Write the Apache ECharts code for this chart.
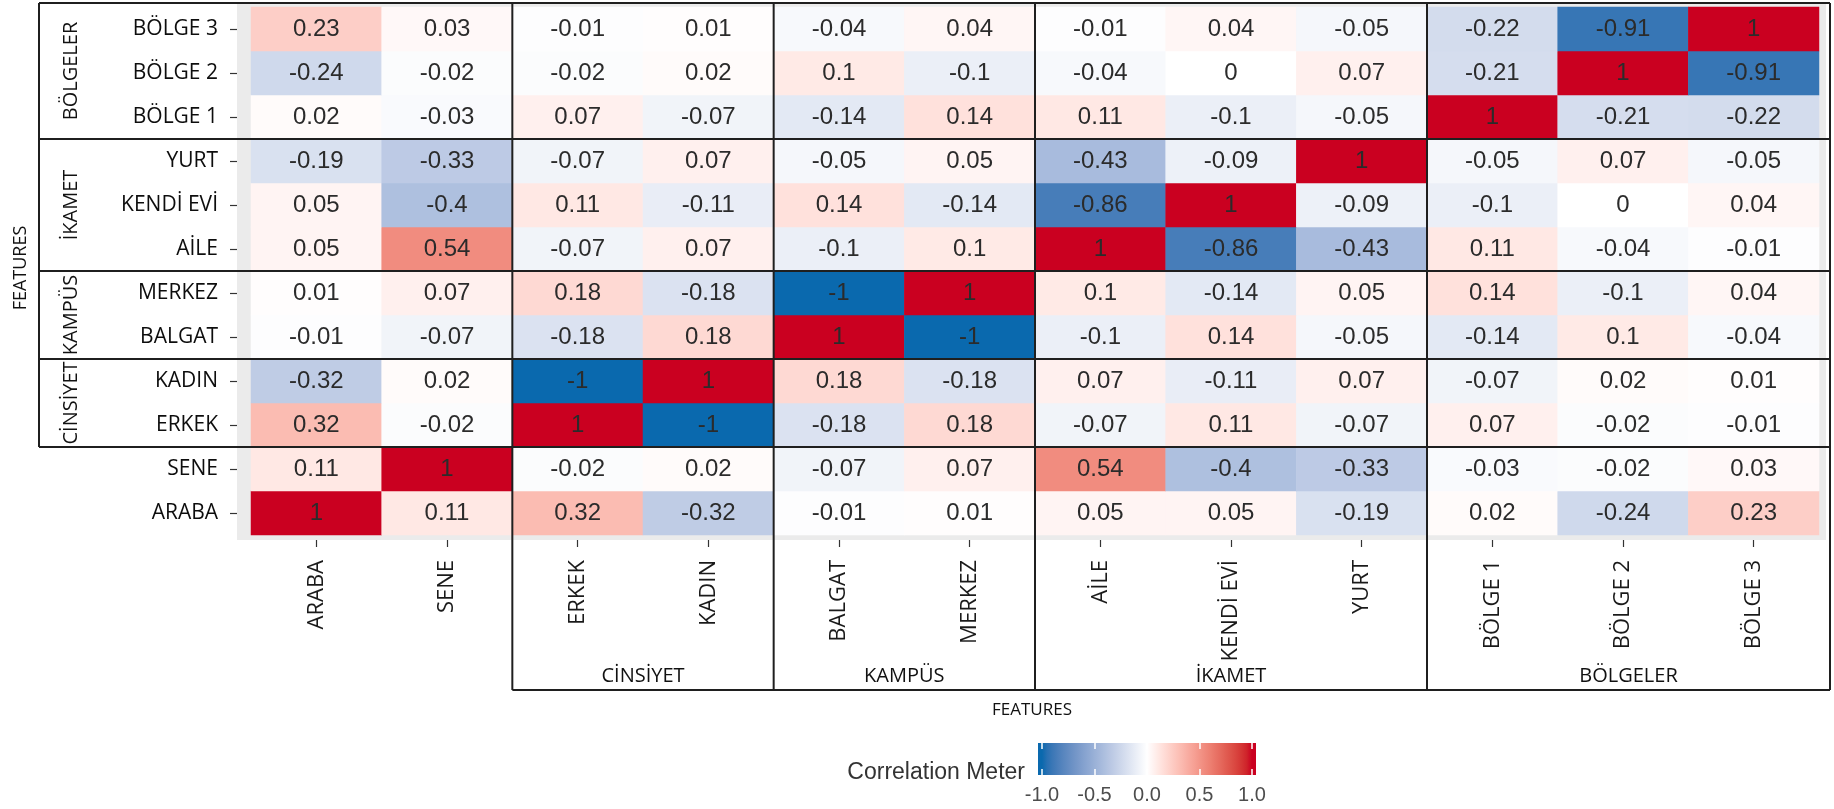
<!DOCTYPE html>
<html>
<head>
<meta charset="utf-8">
<script src="https://cdn.jsdelivr.net/npm/echarts@6/dist/echarts.min.js"></script>
<style>
  html, body { margin: 0; padding: 0; background: #ffffff; }
  #chart { width: 1834px; height: 809px; }
</style>
</head>
<body>
<div id="chart"></div>
<script>
// Feature names: first entry is the bottom row and the left column
const features = ['ARABA', 'SENE', 'ERKEK', 'KADIN', 'BALGAT', 'MERKEZ', 'AİLE', 'KENDİ EVİ', 'YURT', 'BÖLGE 1', 'BÖLGE 2', 'BÖLGE 3'];

// Correlation of each feature with every feature (same column order as features)
const rowAraba   = [1, 0.11, 0.32, -0.32, -0.01, 0.01, 0.05, 0.05, -0.19, 0.02, -0.24, 0.23];
const rowSene    = [0.11, 1, -0.02, 0.02, -0.07, 0.07, 0.54, -0.4, -0.33, -0.03, -0.02, 0.03];
const rowErkek   = [0.32, -0.02, 1, -1, -0.18, 0.18, -0.07, 0.11, -0.07, 0.07, -0.02, -0.01];
const rowKadin   = [-0.32, 0.02, -1, 1, 0.18, -0.18, 0.07, -0.11, 0.07, -0.07, 0.02, 0.01];
const rowBalgat  = [-0.01, -0.07, -0.18, 0.18, 1, -1, -0.1, 0.14, -0.05, -0.14, 0.1, -0.04];
const rowMerkez  = [0.01, 0.07, 0.18, -0.18, -1, 1, 0.1, -0.14, 0.05, 0.14, -0.1, 0.04];
const rowAile    = [0.05, 0.54, -0.07, 0.07, -0.1, 0.1, 1, -0.86, -0.43, 0.11, -0.04, -0.01];
const rowKendiEvi= [0.05, -0.4, 0.11, -0.11, 0.14, -0.14, -0.86, 1, -0.09, -0.1, 0, 0.04];
const rowYurt    = [-0.19, -0.33, -0.07, 0.07, -0.05, 0.05, -0.43, -0.09, 1, -0.05, 0.07, -0.05];
const rowBolge1  = [0.02, -0.03, 0.07, -0.07, -0.14, 0.14, 0.11, -0.1, -0.05, 1, -0.21, -0.22];
const rowBolge2  = [-0.24, -0.02, -0.02, 0.02, 0.1, -0.1, -0.04, 0, 0.07, -0.21, 1, -0.91];
const rowBolge3  = [0.23, 0.03, -0.01, 0.01, -0.04, 0.04, -0.01, 0.04, -0.05, -0.22, -0.91, 1];

const corrRows = [rowAraba, rowSene, rowErkek, rowKadin, rowBalgat, rowMerkez,
                  rowAile, rowKendiEvi, rowYurt, rowBolge1, rowBolge2, rowBolge3];

// Feature groups (index range into features)
const groupNames = ['CİNSİYET', 'KAMPÜS', 'İKAMET', 'BÖLGELER'];
const groupStart = [2, 4, 6, 9];
const groupEnd   = [3, 5, 8, 11];

// Colour bar range
const meterMin = -1;
const meterMax = 1;
const meterStep = 0.5;

// ---- diverging palette, interpolated in CIE Lab between the ends and white ----
const lowColor = '#0A69AE', midColor = '#FFFFFF', highColor = '#CA0020';

function hexToRgb(h) {
  const n = parseInt(h.slice(1), 16);
  return [(n >> 16) & 255, (n >> 8) & 255, n & 255];
}
function toLin(c) { c /= 255; return c <= 0.04045 ? c / 12.92 : Math.pow((c + 0.055) / 1.055, 2.4); }
function fromLin(c) {
  c = c <= 0.0031308 ? 12.92 * c : 1.055 * Math.pow(c, 1 / 2.4) - 0.055;
  return Math.round(Math.max(0, Math.min(1, c)) * 255);
}
function rgbToLab(rgb) {
  const R = toLin(rgb[0]), G = toLin(rgb[1]), B = toLin(rgb[2]);
  const X = (0.4124 * R + 0.3576 * G + 0.1805 * B) / 0.95047;
  const Y = (0.2126 * R + 0.7152 * G + 0.0722 * B);
  const Z = (0.0193 * R + 0.1192 * G + 0.9505 * B) / 1.08883;
  const f = t => t > 0.008856 ? Math.cbrt(t) : (7.787 * t + 16 / 116);
  return [116 * f(Y) - 16, 500 * (f(X) - f(Y)), 200 * (f(Y) - f(Z))];
}
function labToHex(lab) {
  const fy = (lab[0] + 16) / 116, fx = fy + lab[1] / 500, fz = fy - lab[2] / 200;
  const inv = t => (t * t * t > 0.008856 ? t * t * t : (t - 16 / 116) / 7.787);
  const X = inv(fx) * 0.95047, Y = inv(fy), Z = inv(fz) * 1.08883;
  const r = fromLin(3.2406 * X - 1.5372 * Y - 0.4986 * Z);
  const g = fromLin(-0.9689 * X + 1.8758 * Y + 0.0415 * Z);
  const b = fromLin(0.0557 * X - 0.2040 * Y + 1.0570 * Z);
  return '#' + [r, g, b].map(v => v.toString(16).padStart(2, '0')).join('');
}
const labLow = rgbToLab(hexToRgb(lowColor));
const labMid = rgbToLab(hexToRgb(midColor));
const labHigh = rgbToLab(hexToRgb(highColor));
function colorAt(v) {
  const t = Math.min(1, Math.abs(v));
  const end = v < 0 ? labLow : labHigh;
  return labToHex([0, 1, 2].map(k => labMid[k] + (end[k] - labMid[k]) * t));
}
const STOPS = 40;
const palette = [];
for (let i = 0; i <= STOPS; i++) palette.push(colorAt(meterMin + (meterMax - meterMin) * i / STOPS));

// ---- heatmap cells ----
const cells = [];
corrRows.forEach((row, r) => row.forEach((v, c) => cells.push([c, r, v])));

// ---- layout of the main panel ----
const G_LEFT = 251, G_TOP = 7, G_W = 1568, G_H = 528;
const N = features.length;
const CW = G_W / N, CH = G_H / N;
const BOX_LEFT = 39, BOX_TOP = 3, BOX_RIGHT = 1830, BOX_BOTTOM = 690;
const colX = i => G_LEFT + i * CW;           // left edge of column i
const rowY = i => G_TOP + (N - i) * CH;      // bottom edge of row i (rows counted from bottom)

// colour-bar geometry
const BAR_LEFT = 1042, BAR_W = 210, BAR_TOP = 743, BAR_H = 32, BAR_PAD = 4;

const labelFont = '"Open Sans", "DejaVu Sans", sans-serif';
const numFont = '"Liberation Sans", Arial, sans-serif';
const graphics = [];

// grey panel behind the tiles
graphics.push({
  type: 'rect', z: -10, silent: true,
  shape: { x: G_LEFT - 14, y: 2, width: G_W + 21, height: G_H + 10 },
  style: { fill: '#EBEBEB' }
});

// group frame lines
const lineStyle = { stroke: '#1f1f1f', lineWidth: 2 };
function addLine(x1, y1, x2, y2) {
  graphics.push({ type: 'line', z: 100, silent: true, shape: { x1, y1, x2, y2 }, style: lineStyle });
}
addLine(BOX_LEFT, BOX_TOP, BOX_RIGHT, BOX_TOP);
addLine(BOX_LEFT, BOX_TOP, BOX_LEFT, rowY(groupStart[0]));
groupStart.forEach(s => addLine(BOX_LEFT, rowY(s), BOX_RIGHT, rowY(s)));
groupStart.forEach(s => addLine(colX(s), BOX_TOP, colX(s), BOX_BOTTOM));
addLine(BOX_RIGHT, BOX_TOP, BOX_RIGHT, BOX_BOTTOM);
addLine(colX(groupStart[0]), BOX_BOTTOM, BOX_RIGHT, BOX_BOTTOM);

// group names: left side (rotated) and under the column labels
groupNames.forEach((name, g) => {
  const yTop = g === groupNames.length - 1 ? BOX_TOP : rowY(groupEnd[g] + 1);
  const yBot = rowY(groupStart[g]);
  graphics.push({
    type: 'text', z: 100, silent: true, x: 71, y: (yTop + yBot) / 2, rotation: Math.PI / 2,
    style: { text: name, font: '20px ' + labelFont, fill: '#111111',
             textAlign: 'center', textVerticalAlign: 'middle', align: 'center', verticalAlign: 'middle' }
  });
  const xL = colX(groupStart[g]);
  const xR = g === groupNames.length - 1 ? BOX_RIGHT : colX(groupEnd[g] + 1);
  graphics.push({
    type: 'text', z: 100, silent: true, x: (xL + xR) / 2, y: 676,
    style: { text: name, font: '20px ' + labelFont, fill: '#111111',
             textAlign: 'center', textVerticalAlign: 'middle', align: 'center', verticalAlign: 'middle' }
  });
});

// axis titles
graphics.push({
  type: 'text', z: 100, silent: true, x: 21, y: 268, rotation: Math.PI / 2,
  style: { text: 'FEATURES', font: '18px ' + labelFont, fill: '#111111',
           textAlign: 'center', textVerticalAlign: 'middle', align: 'center', verticalAlign: 'middle' }
});
graphics.push({
  type: 'text', z: 100, silent: true, x: 1032, y: 710,
  style: { text: 'FEATURES', font: '17px ' + labelFont, fill: '#111111',
           textAlign: 'center', textVerticalAlign: 'middle', align: 'center', verticalAlign: 'middle' }
});

// colour bar and its title
const barStops = [];
for (let i = 0; i <= STOPS; i++) {
  barStops.push({ offset: (BAR_PAD + BAR_W * i / STOPS) / (BAR_W + 2 * BAR_PAD), color: palette[i] });
}
barStops.unshift({ offset: 0, color: palette[0] });
barStops.push({ offset: 1, color: palette[STOPS] });
graphics.push({
  type: 'rect', z: 1, silent: true,
  shape: { x: BAR_LEFT - BAR_PAD, y: BAR_TOP, width: BAR_W + 2 * BAR_PAD, height: BAR_H },
  style: { fill: new echarts.graphic.LinearGradient(0, 0, 1, 0, barStops) }
});
graphics.push({
  type: 'text', z: 100, silent: true, x: 1025, y: 773,
  style: { text: 'Correlation Meter', font: '23px ' + numFont, fill: '#333333',
           textAlign: 'right', textVerticalAlign: 'middle', align: 'right', verticalAlign: 'middle' }
});

const chart = echarts.init(document.getElementById('chart'), null, { renderer: 'canvas' });
chart.setOption({
  animation: false,
  backgroundColor: '#ffffff',
  grid: [
    { left: G_LEFT, top: G_TOP, width: G_W, height: G_H, containLabel: false },
    { left: BAR_LEFT, top: BAR_TOP, width: BAR_W, height: BAR_H, containLabel: false }
  ],
  xAxis: [
    {
      type: 'category', data: features, gridIndex: 0, position: 'bottom', offset: 5,
      axisLine: { show: false },
      axisTick: { show: true, alignWithLabel: true, length: 7, lineStyle: { color: '#333', width: 1.2 } },
      axisLabel: { interval: 0, rotate: 90, margin: 20, fontSize: 22, fontFamily: labelFont, color: '#1a1a1a' },
      splitLine: { show: false }
    },
    {
      type: 'value', gridIndex: 1, min: meterMin, max: meterMax, interval: meterStep, z: 5,
      axisLine: { show: false },
      axisTick: { show: true, inside: true, length: 6, lineStyle: { color: '#ffffff', width: 1.5 } },
      axisLabel: { margin: 10, fontSize: 20, fontFamily: numFont, color: '#4d4d4d',
                   formatter: v => v.toFixed(1) },
      splitLine: { show: false }
    },
    {
      type: 'value', gridIndex: 1, position: 'top', min: meterMin, max: meterMax, interval: meterStep, z: 5,
      axisLine: { show: false },
      axisTick: { show: true, inside: true, length: 6, lineStyle: { color: '#ffffff', width: 1.5 } },
      axisLabel: { show: false },
      splitLine: { show: false }
    }
  ],
  yAxis: [
    {
      type: 'category', data: features, gridIndex: 0, offset: 14,
      axisLine: { show: false },
      axisTick: { show: true, alignWithLabel: true, length: 7, lineStyle: { color: '#333', width: 1.2 } },
      axisLabel: { interval: 0, margin: 19, fontSize: 21, fontFamily: labelFont, color: '#0d0d0d' },
      splitLine: { show: false }
    },
    { type: 'value', gridIndex: 1, show: false, min: 0, max: 1 }
  ],
  visualMap: {
    show: false, type: 'continuous', min: meterMin, max: meterMax, dimension: 2, seriesIndex: 0,
    inRange: { color: palette }
  },
  graphic: { elements: graphics },
  series: [{
    type: 'heatmap',
    xAxisIndex: 0, yAxisIndex: 0,
    data: cells,
    label: {
      show: true, fontSize: 24, fontFamily: numFont, color: '#2b2b2b',
      formatter: p => String(p.value[2])
    },
    itemStyle: { borderWidth: 0 },
    emphasis: { disabled: true }
  }]
});
</script>
</body>
</html>
